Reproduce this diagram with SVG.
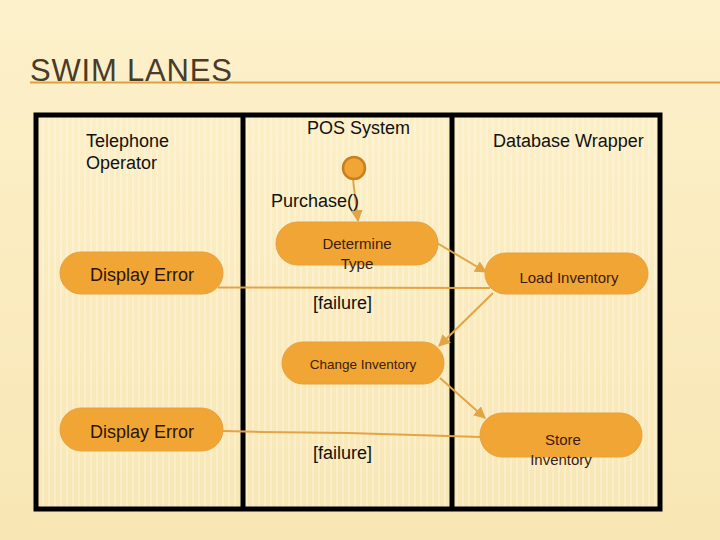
<svg xmlns="http://www.w3.org/2000/svg" width="720" height="540" viewBox="0 0 720 540">
<defs>
<linearGradient id="bg" x1="0" y1="0" x2="0" y2="1">
<stop offset="0" stop-color="#fdf1cb"/>
<stop offset="1" stop-color="#f8e6b4"/>
</linearGradient>
<pattern id="stripes" width="6" height="6" patternUnits="userSpaceOnUse">
<rect width="2" height="6" fill="#ffffff" opacity="0.25"/>
</pattern>
<marker id="arr" viewBox="0 0 10 10" refX="9" refY="5" markerWidth="6" markerHeight="6" orient="auto-start-reverse">
<path d="M0,0 L10,5 L0,10 Z" fill="#e3a446"/>
</marker>
<style>
.lane{fill:none;stroke:#000;stroke-width:5}
.node{fill:#f0a535;stroke:#e8a040;stroke-width:1}
.lbl{font-family:"Liberation Sans",Arial,sans-serif;font-size:18px;fill:#111}
.nt{font-family:"Liberation Sans",Arial,sans-serif;font-size:15px;fill:#3a1c10;text-anchor:middle}
.nt.sm{font-size:13.5px}
.nb{font-family:"Liberation Sans",Arial,sans-serif;font-size:18px;fill:#2a1408;text-anchor:middle}
.con{fill:none;stroke:#e3a446;stroke-width:2}
</style>
</defs>
<rect width="720" height="540" fill="url(#bg)"/>
<rect x="36" y="115" width="624" height="394" fill="url(#stripes)"/>
<text x="30" y="81" font-family="Liberation Sans,Arial,sans-serif" font-size="31" letter-spacing="0.8" fill="#4a3a2a">SWIM LANES</text>
<line x1="30" y1="82.5" x2="720" y2="82.5" stroke="#dda040" stroke-width="2"/>
<g id="lanes">
<rect class="lane" x="36" y="115" width="624" height="394"/>
<line class="lane" x1="243" y1="115" x2="243" y2="509"/>
<line class="lane" x1="452" y1="115" x2="452" y2="509"/>
</g>
<g id="lane-labels">
<text class="lbl" x="86" y="147">Telephone</text>
<text class="lbl" x="86" y="169">Operator</text>
<text class="lbl" x="307" y="134">POS System</text>
<text class="lbl" x="493" y="147">Database Wrapper</text>
</g>
<g id="connectors">
<line class="con" x1="353" y1="179" x2="358" y2="221" marker-end="url(#arr)"/>
<line class="con" x1="437" y1="243" x2="486" y2="272" marker-end="url(#arr)"/>
<line class="con" x1="218" y1="287.5" x2="490" y2="288"/>
<line class="con" x1="493" y1="293" x2="439" y2="346" marker-end="url(#arr)"/>
<line class="con" x1="440" y1="378" x2="485" y2="418" marker-end="url(#arr)"/>
<polyline class="con" points="223,431 262,432 348,433 481,437"/>
</g>
<g id="start">
<circle cx="354" cy="168" r="11" fill="#f0a535" stroke="#c8801e" stroke-width="2.5"/>
</g>
<text class="lbl" x="271" y="207">Purchase()</text>
<g id="determine-type">
<rect class="node" x="276" y="222" width="162" height="43" rx="21.5"/>
<text class="nt" x="357" y="249">Determine</text>
<text class="nt" x="357" y="269">Type</text>
</g>
<g id="display-error-1">
<rect class="node" x="60" y="252" width="163" height="42" rx="21"/>
<text class="nb" x="142" y="281">Display Error</text>
</g>
<g id="load-inventory">
<rect class="node" x="485" y="253" width="163" height="41" rx="20.5"/>
<text class="nt" x="569" y="283">Load Inventory</text>
</g>
<text class="lbl" x="313" y="309">[failure]</text>
<g id="change-inventory">
<rect class="node" x="282" y="342" width="162" height="42" rx="21"/>
<text class="nt sm" x="363" y="369">Change Inventory</text>
</g>
<g id="display-error-2">
<rect class="node" x="60" y="408" width="163" height="43" rx="21.5"/>
<text class="nb" x="142" y="438">Display Error</text>
</g>
<g id="store-inventory">
<rect class="node" x="480" y="413" width="162" height="44" rx="22"/>
<text class="nt" x="563" y="445">Store</text>
<text class="nt" x="561" y="465">Inventory</text>
</g>
<text class="lbl" x="313" y="459">[failure]</text>
</svg>
